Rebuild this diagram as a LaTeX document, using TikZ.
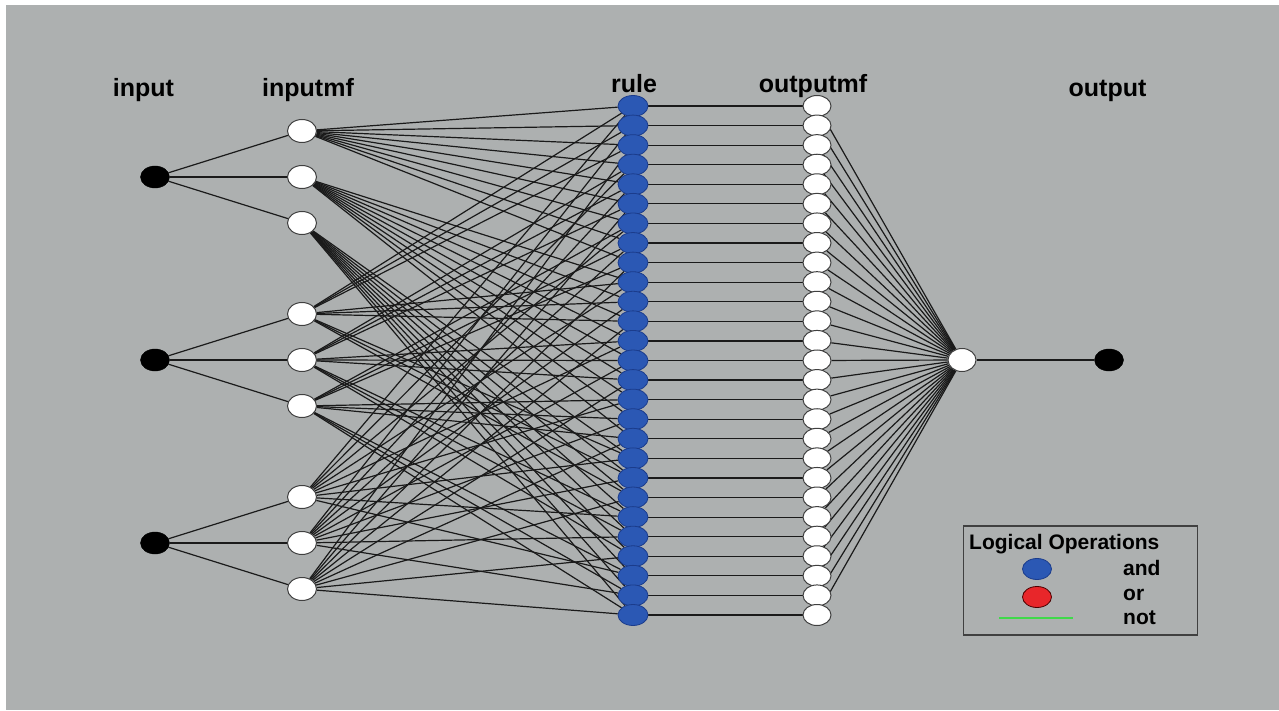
\documentclass[tikz,border=0pt]{standalone}
\usepackage{fontspec}
\setmainfont{Liberation Sans}
\usetikzlibrary{shapes.geometric}
\pgfdeclarelayer{bg}
\pgfdeclarelayer{edges}
\pgfsetlayers{bg,edges,main}
\definecolor{bgcol}{HTML}{ADB0B0}
\definecolor{rulefill}{HTML}{2B58B4}
\definecolor{ruleline}{HTML}{1B3C8C}
\definecolor{redfill}{HTML}{E8262A}
\definecolor{greenline}{HTML}{3FD94A}
\definecolor{edgecol}{HTML}{1A1A1A}
\begin{document}
\begin{tikzpicture}[x=1pt,y=-1pt,
  innode/.style={ellipse,fill=black,draw=black,minimum width=29pt,minimum height=22pt,inner sep=0pt},
  mfnode/.style={ellipse,fill=white,draw=black!75,line width=1pt,minimum width=29pt,minimum height=23pt,inner sep=0pt},
  rulenode/.style={ellipse,fill=rulefill,draw=ruleline,line width=0.8pt,minimum width=30pt,minimum height=21pt,inner sep=0pt},
  omfnode/.style={ellipse,fill=white,draw=black!75,line width=1pt,minimum width=28pt,minimum height=21pt,inner sep=0pt},
  layertitle/.style={anchor=base,font=\fontsize{25}{30}\selectfont\bfseries,text=black,inner sep=0pt},
  legendtext/.style={anchor=base west,font=\fontsize{21}{25}\selectfont\bfseries,text=black,inner sep=0pt},
  edge/.style={draw=edgecol,line width=1.2pt},
  legendbox/.style={draw=black!75,line width=1.5pt,minimum width=234pt,minimum height=109pt,inner sep=0pt}
]
\useasboundingbox (0,0) rectangle (1279,711);
\begin{pgfonlayer}{bg}
  \fill[white] (0,0) rectangle (1279,711);
  \fill[bgcol] (6,5) rectangle (1279,710);
\end{pgfonlayer}

% titles
\node[layertitle] (tin) at (143.5,97) {input};
\node[layertitle] (tinmf) at (308,97) {inputmf};
\node[layertitle] (trule) at (634,93) {rule};
\node[layertitle] (toutmf) at (813,93) {outputmf};
\node[layertitle] (tout) at (1107.5,97) {output};

% inputs
\node[innode] (in1) at (155,177) {};
\node[innode] (in2) at (155,360) {};
\node[innode] (in3) at (155,543) {};

% input membership functions
\foreach \k/\yy in {1/131,2/177,3/223,4/314,5/360,6/406,7/497,8/543,9/589}
  \node[mfnode] (m\k) at (302,\yy) {};

% rules and output mfs
\foreach \r in {1,...,27} {
  \pgfmathsetmacro{\yy}{106+(\r-1)*509/26}
  \node[omfnode] (o\r) at (817,\yy) {};
}
\foreach \r in {1,...,27} {
  \pgfmathsetmacro{\yy}{106+(\r-1)*509/26}
  \node[rulenode] (r\r) at (633,\yy) {};
}

% aggregation and output
\node[mfnode,minimum width=28pt] (agg) at (962,360) {};
\node[innode] (out) at (1109,360) {};

\begin{pgfonlayer}{edges}
  \foreach \k in {1,2,3} \draw[edge] (in1) -- (m\k);
  \foreach \k in {4,5,6} \draw[edge] (in2) -- (m\k);
  \foreach \k in {7,8,9} \draw[edge] (in3) -- (m\k);
  \foreach \r in {1,...,27} {
    \pgfmathtruncatemacro{\ia}{div(\r-1,9)+1}
    \pgfmathtruncatemacro{\ib}{mod(div(\r-1,3),3)+4}
    \pgfmathtruncatemacro{\ic}{mod(\r-1,3)+7}
    \draw[edge] (m\ia) -- (r\r);
    \draw[edge] (m\ib) -- (r\r);
    \draw[edge] (m\ic) -- (r\r);
    \draw[edge] (r\r) -- (o\r);
    \draw[edge] (o\r) -- (agg);
  }
  \draw[edge] (agg) -- (out);
\end{pgfonlayer}

% legend
\node[legendbox] (legend) at (1080.5,580.5) {};
\node[legendtext] (lgtitle) at (969,549) {Logical Operations};
\node[ellipse,fill=rulefill,draw=ruleline,line width=0.8pt,minimum width=29pt,minimum height=21pt,inner sep=0pt] (lgand) at (1037,569) {};
\node[ellipse,fill=redfill,draw=black!70!red,line width=0.8pt,minimum width=29pt,minimum height=21pt,inner sep=0pt] (lgor) at (1037,597) {};
\coordinate (gA) at (999,618);
\coordinate (gB) at (1073,618);
\draw[greenline,line width=1.6pt] (gA) -- (gB);
\node[legendtext] (tand) at (1123,575) {and};
\node[legendtext] (tor) at (1123,600) {or};
\node[legendtext] (tnot) at (1123,624) {not};
\end{tikzpicture}
\end{document}
